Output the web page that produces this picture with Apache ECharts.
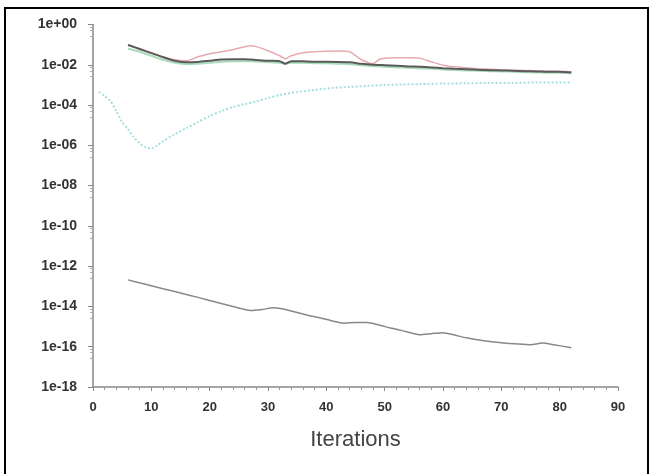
<!DOCTYPE html>
<html>
<head>
<meta charset="utf-8">
<script src="https://cdn.jsdelivr.net/npm/echarts@6/dist/echarts.min.js"></script>
<style>html,body{margin:0;padding:0;background:#fff}#c{width:651px;height:474px}</style>
</head>
<body>
<div id="c"></div>
<script>
// Iterations (x) and residuals stored as log10 exponents
const topIters = [6,8,10,12,14,16,18,20,22,24,26,27,28,30,32,33,34,36,38,40,42,44,46,48,49,50,52,54,56,58,60,62,64,66,68,70,72,74,76,78,80,82];
const blackLog = [-1.02,-1.22,-1.42,-1.62,-1.8,-1.88,-1.86,-1.8,-1.74,-1.72,-1.72,-1.74,-1.76,-1.8,-1.82,-1.95,-1.82,-1.83,-1.85,-1.85,-1.86,-1.88,-1.95,-2.0,-2.01,-2.02,-2.05,-2.08,-2.1,-2.13,-2.17,-2.2,-2.22,-2.25,-2.27,-2.28,-2.3,-2.32,-2.33,-2.35,-2.35,-2.38];
const pinkLog = [-1.0,-1.2,-1.4,-1.6,-1.75,-1.8,-1.6,-1.45,-1.35,-1.25,-1.1,-1.05,-1.1,-1.3,-1.55,-1.7,-1.55,-1.4,-1.35,-1.33,-1.32,-1.35,-1.75,-1.95,-1.75,-1.68,-1.65,-1.65,-1.67,-1.85,-2.02,-2.1,-2.15,-2.2,-2.22,-2.25,-2.27,-2.28,-2.3,-2.32,-2.33,-2.35];
const greenLog = [-1.2,-1.35,-1.55,-1.75,-1.9,-1.97,-1.95,-1.9,-1.85,-1.83,-1.82,-1.82,-1.84,-1.87,-1.9,-1.95,-1.9,-1.9,-1.92,-1.93,-1.95,-1.97,-2.02,-2.07,-2.08,-2.1,-2.13,-2.15,-2.18,-2.2,-2.23,-2.26,-2.28,-2.3,-2.32,-2.33,-2.35,-2.37,-2.38,-2.4,-2.4,-2.42];
const cyanIters = [1,2,3,4,5,6,7,8,9,10,11,12,14,16,18,20,22,24,26,28,30,32,35,38,41,44,47,50,53,56,60,64,68,72,76,80,82];
const cyanLog = [-3.35,-3.55,-3.8,-4.3,-4.85,-5.2,-5.6,-5.9,-6.1,-6.15,-6.0,-5.8,-5.45,-5.15,-4.85,-4.55,-4.3,-4.1,-3.95,-3.82,-3.65,-3.5,-3.35,-3.25,-3.15,-3.1,-3.05,-3.0,-2.98,-2.96,-2.93,-2.92,-2.9,-2.9,-2.88,-2.88,-2.88];
const lowIters = [6,9,12,15,18,21,24,27,29,31,33,35,37,39,41,43,45,47,49,51,53,56,58,60,62,64,67,70,73,75,77,79,82];
const lowLog = [-12.68,-12.9,-13.12,-13.33,-13.55,-13.78,-14.0,-14.2,-14.15,-14.07,-14.15,-14.3,-14.45,-14.57,-14.72,-14.83,-14.8,-14.8,-14.92,-15.07,-15.2,-15.4,-15.35,-15.3,-15.42,-15.56,-15.7,-15.8,-15.87,-15.9,-15.82,-15.9,-16.05];
const xTicks = [0,10,20,30,40,50,60,70,80,90];
const yTickExps = [0,-2,-4,-6,-8,-10,-12,-14,-16,-18];

function pairs(xs, ls){ return xs.map((x,i)=>[x, Math.pow(10, ls[i])]); }
function fmtY(v){
  const e = Math.round(Math.log10(v));
  return '1e' + (e >= 0 ? '+' : '-') + String(Math.abs(e)).padStart(2,'0');
}
const chart = echarts.init(document.getElementById('c'), null, {renderer:'canvas'});
const labelStyle = {color:'#333', fontFamily:'Liberation Sans, Arial, sans-serif', fontSize:13, fontWeight:'bold'};
chart.setOption({
  animation:false,
  backgroundColor:'#fff',
  grid:{left:93, right:33, top:24.5, bottom:87, containLabel:false},
  graphic:[{type:'rect', shape:{x:5, y:8, width:643, height:480}, style:{fill:'none', stroke:'#000', lineWidth:2}, silent:true}],
  xAxis:{
    type:'value', min:xTicks[0], max:xTicks[xTicks.length-1], interval:10,
    name:'Iterations', nameLocation:'middle', nameGap:42,
    nameTextStyle:{color:'#444', fontFamily:'Liberation Sans, Arial, sans-serif', fontSize:22},
    axisLine:{lineStyle:{color:'#888', width:1.5}},
    axisTick:{show:true, length:4, inside:false, lineStyle:{color:'#888'}},
    minorTick:{show:true, splitNumber:5, length:3, lineStyle:{color:'#999'}},
    splitLine:{show:false},
    axisLabel:Object.assign({margin:14}, labelStyle)
  },
  yAxis:{
    type:'log', logBase:10, min:Math.pow(10,yTickExps[yTickExps.length-1]), max:Math.pow(10,yTickExps[0]), interval:2,
    axisLine:{show:true, lineStyle:{color:'#888', width:1.5}},
    axisTick:{show:true, length:5, lineStyle:{color:'#888'}},
    minorTick:{show:true, splitNumber:4, length:3, lineStyle:{color:'#aaa'}},
    splitLine:{show:false},
    axisLabel:Object.assign({margin:16, formatter:fmtY}, labelStyle, {fontSize:14})
  },
  series:[
    {name:'cyan', type:'line', data:pairs(cyanIters, cyanLog), showSymbol:false, smooth:0.25, lineStyle:{color:'#a6dede', width:2, type:'dotted'}},
    {name:'green', type:'line', data:pairs(topIters, greenLog), showSymbol:false, smooth:0.2, lineStyle:{color:'#a9dcbc', width:2}},
    {name:'pink', type:'line', data:pairs(topIters, pinkLog), showSymbol:false, smooth:0.2, lineStyle:{color:'#e8aab2', width:1.5}},
    {name:'black', type:'line', data:pairs(topIters, blackLog), showSymbol:false, smooth:0.2, lineStyle:{color:'#5a5a5a', width:2}},
    {name:'low', type:'line', data:pairs(lowIters, lowLog), showSymbol:false, smooth:0.2, lineStyle:{color:'#888', width:1.5}}
  ]
});
</script>
</body>
</html>
